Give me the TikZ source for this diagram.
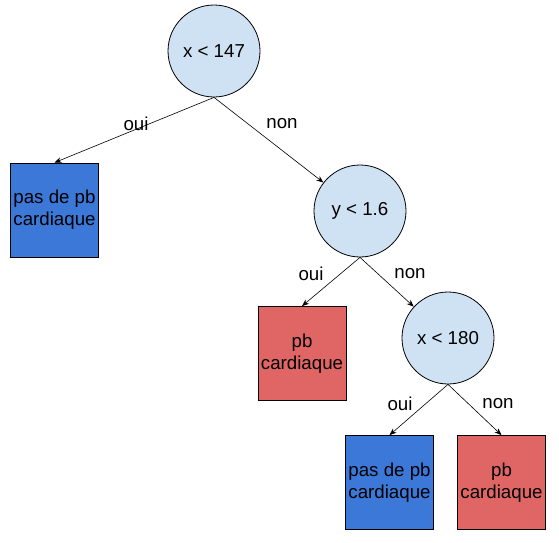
\documentclass[tikz,border=0pt]{standalone}
\usepackage{fontspec}
\setmainfont{Liberation Sans}
\usetikzlibrary{arrows.meta}
\definecolor{cq}{HTML}{CFE2F3}
\definecolor{bl}{HTML}{3C78D8}
\definecolor{rd}{HTML}{E06666}
\tikzset{
  test/.style={circle, draw=black, line width=0.8pt, fill=cq, minimum size=92pt, inner sep=0pt, font=\fontsize{18.7}{22}\selectfont},
  leaf/.style={rectangle, draw=black, line width=0.8pt, minimum width=88pt, minimum height=94pt, inner sep=0pt, align=center, font=\fontsize{18.7}{22}\selectfont},
  healthy/.style={leaf, fill=bl},
  sick/.style={leaf, fill=rd},
  edge/.style={draw=black, line width=0.6pt, -{Stealth[length=7pt,width=5.5pt]}},
  lbl/.style={font=\fontsize{18.7}{22}\selectfont, inner sep=0pt}
}
\begin{document}
\begin{tikzpicture}[x=1pt,y=-1pt]
\useasboundingbox (0,0) rectangle (559,542);
\node[test] (c1) at (214,51) {x < 147};
\node[healthy] (b1) at (54.5,210) {pas de pb\\cardiaque};
\node[test] (c2) at (360,211) {y < 1.6};
\node[sick] (b2) at (302,353.5) {pb\\cardiaque};
\node[test] (c3) at (448,338) {x < 180};
\node[healthy] (b3) at (389.5,482.5) {pas de pb\\cardiaque};
\node[sick] (b4) at (501.5,482.5) {pb\\cardiaque};

\draw[edge] (c1.south) -- (b1.north);
\draw[edge] (c1.south) -- (c2);
\draw[edge] (c2.south) -- (b2.north);
\draw[edge] (c2.south) -- (c3);
\draw[edge] (c3.south) -- (b3.north);
\draw[edge] (c3.south) -- (b4.north);

\node[lbl] (l1) at (136,124) {oui};
\node[lbl] (l2) at (282,124) {non};
\node[lbl] (l3) at (311,274) {oui};
\node[lbl] (l4) at (410,274) {non};
\node[lbl] (l5) at (400,404) {oui};
\node[lbl] (l6) at (498,404) {non};
\end{tikzpicture}
\end{document}
